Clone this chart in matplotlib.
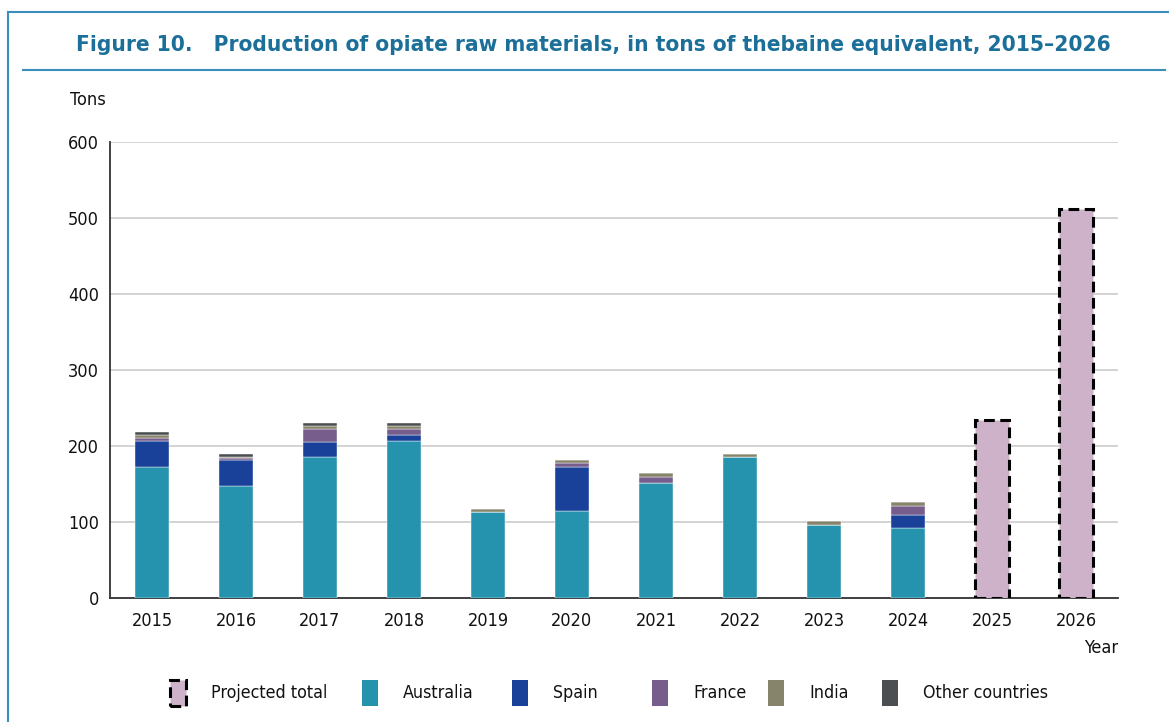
import numpy as np
import matplotlib.pyplot as plt
from matplotlib.patches import Rectangle
from matplotlib.lines import Line2D

plt.rcParams['font.family'] = ['DejaVu Sans']
plt.rcParams['font.stretch'] = 'condensed'

years = ['2015', '2016', '2017', '2018', '2019', '2020', '2021', '2022',
         '2023', '2024', '2025', '2026']
australia = [172, 147, 185, 206, 113, 114, 151, 185, 96.5, 92.5, 0, 0]
spain = [34, 34, 20, 8, 0, 58, 0, 0, 0, 16.5, 0, 0]
france = [4, 3, 17, 8, 0, 5, 8.5, 0, 0, 12.5, 0, 0]
india = [4.5, 2, 4, 4.5, 4.5, 4, 5, 4.5, 4.5, 4.5, 0, 0]
other = [4, 3.5, 4, 4, 0, 0, 0, 0, 0, 0, 0, 0]
projected = [0, 0, 0, 0, 0, 0, 0, 0, 0, 0, 234, 512]

series = [('Australia', australia, '#2693ae'),
          ('Spain', spain, '#19419a'),
          ('France', france, '#775d8c'),
          ('India', india, '#86846a'),
          ('Other countries', other, '#4b4f52')]
pink = '#cdb2c9'

fig = plt.figure(figsize=(11.69, 7.22), dpi=100)
ax = fig.add_axes([110/1169, 1-598/722, 1008/1169, 456/722])

x = np.arange(len(years))
w = 0.4
bottom = np.zeros(len(years))
for name, vals, col in series:
    v = np.array(vals, dtype=float)
    ax.bar(x, v, w, bottom=bottom, color=col, edgecolor='white', linewidth=0.3, zorder=3)
    bottom += v

proj = np.array(projected, dtype=float)
mask = proj > 0
ax.bar(x[mask], proj[mask], w, color=pink, edgecolor='black', linewidth=2.2,
       linestyle=(0, (3.5, 1.8)), zorder=3)

ax.set_xlim(-0.5, len(years) - 0.5)
ax.set_ylim(0, 600)
ax.set_yticks(range(0, 601, 100))
ax.set_xticks(x)
ax.set_xticklabels(years)
ax.grid(axis='y', color='#cccccc', linewidth=1.2, zorder=0)
for s in ['top', 'right']:
    ax.spines[s].set_visible(False)
for s in ['left', 'bottom']:
    ax.spines[s].set_color('#333333')
    ax.spines[s].set_linewidth(1.3)
ax.tick_params(axis='y', length=0, pad=8, labelsize=13, colors='#111111')
ax.tick_params(axis='x', length=0, pad=10, labelsize=13, colors='#111111')

fig.text(70/1169, 1-100/722, 'Tons', fontsize=13, ha='left', va='center', color='#111111')
fig.text(1118/1169, 1-648/722, 'Year', fontsize=13, ha='right', va='center', color='#111111')

fig.text(593/1169, 1-45/722,
         'Figure 10.   Production of opiate raw materials, in tons of thebaine equivalent, 2015\u20132026',
         fontsize=16.2, fontweight='bold', color='#1b6f99', ha='center', va='center')

# frame lines
frame_col = '#3a8fba'
fig.add_artist(Line2D([8/1169, 8/1169], [0, 1-12/722], transform=fig.transFigure,
                      color=frame_col, linewidth=1.5))
fig.add_artist(Line2D([8/1169, 1], [1-12/722, 1-12/722], transform=fig.transFigure,
                      color=frame_col, linewidth=1.5))
fig.add_artist(Line2D([23/1169, 1165/1169], [1-70/722, 1-70/722], transform=fig.transFigure,
                      color=frame_col, linewidth=1.5))

# legend
leg_items = [('Projected total', pink, True)] + [(n, c, False) for n, _, c in series]
leg_x = [170, 362, 512, 652, 768, 882]
leg_y = 693
for (name, col, dashed), lx in zip(leg_items, leg_x):
    if dashed:
        r = Rectangle((lx/1169, 1-(leg_y+13)/722), 16/1169, 26/722, transform=fig.transFigure,
                      facecolor=col, edgecolor='black', linewidth=2.2, linestyle=(0, (3.5, 1.8)))
    else:
        r = Rectangle((lx/1169, 1-(leg_y+13)/722), 16/1169, 26/722, transform=fig.transFigure,
                      facecolor=col, edgecolor='none')
    fig.add_artist(r)
    fig.text((lx+41)/1169, 1-leg_y/722, name, fontsize=12.8,
             ha='left', va='center', color='#111111')

fig.savefig('out.png', dpi=100)
